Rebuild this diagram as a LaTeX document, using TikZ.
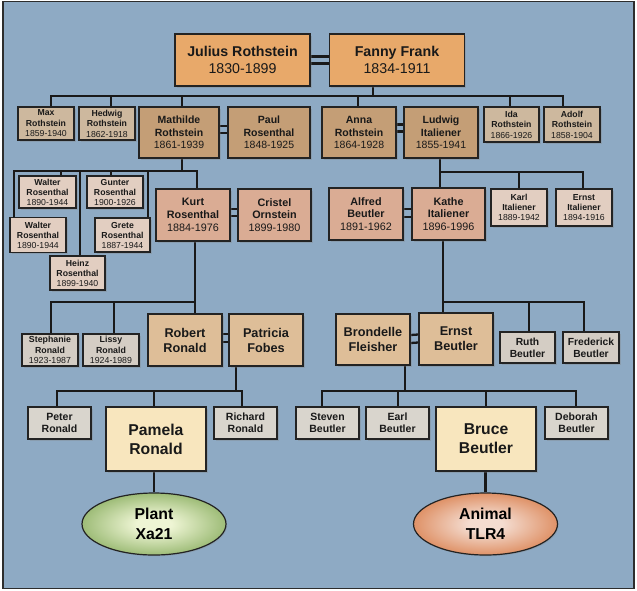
\documentclass[tikz,border=0pt]{standalone}
\usepackage{fontspec}
\setmainfont{Liberation Sans}
\usetikzlibrary{shapes.geometric,shadows}
\definecolor{bgblue}{RGB}{142,170,196}
\definecolor{frameline}{RGB}{45,45,45}
\definecolor{boxline}{RGB}{35,35,35}
\definecolor{cTop}{RGB}{232,169,106}
\definecolor{cGtwo}{RGB}{196,158,118}
\definecolor{cGtwoS}{RGB}{205,184,158}
\definecolor{cGthree}{RGB}{218,172,148}
\definecolor{cGthreeS}{RGB}{226,206,193}
\definecolor{cGfour}{RGB}{222,190,152}
\definecolor{cGfourS}{RGB}{212,205,196}
\definecolor{cGfiveS}{RGB}{217,213,205}
\definecolor{cCream}{RGB}{248,230,190}
\definecolor{gin}{RGB}{238,245,212}
\definecolor{gout}{RGB}{132,170,90}
\definecolor{oin}{RGB}{244,220,208}
\definecolor{oout}{RGB}{216,122,70}
\pgfdeclareradialshading{greenball}{\pgfpoint{0bp}{0bp}}{color(0bp)=(gin); color(6bp)=(gin); color(31bp)=(gout); color(50bp)=(gout)}
\pgfdeclareradialshading{orangeball}{\pgfpoint{0bp}{0bp}}{color(0bp)=(oin); color(6bp)=(oin); color(31bp)=(oout); color(50bp)=(oout)}
\pgfdeclarelayer{bglayer}
\pgfdeclarelayer{linelayer}
\pgfsetlayers{bglayer,linelayer,main}
\tikzset{
  pbox/.style={rectangle, draw=boxline, line width=1.4pt, inner sep=0pt, align=center,
    text=black!90, drop shadow={shadow xshift=1.5pt, shadow yshift=-1.5pt, opacity=0.3}},
  sz/.style 2 args={minimum width=#1pt, minimum height=#2pt},
  gtop/.style={pbox, fill=cTop, font=\fontsize{14.2}{17}\selectfont},
  gtwo/.style={pbox, fill=cGtwo, font=\fontsize{10.5}{12.5}\selectfont},
  gtwos/.style={pbox, fill=cGtwoS, font=\fontsize{8.7}{10.5}\selectfont},
  gthree/.style={pbox, fill=cGthree, font=\fontsize{10.8}{12.7}\selectfont},
  gthrees/.style={pbox, fill=cGthreeS, font=\fontsize{8.7}{10}\selectfont},
  gfour/.style={pbox, fill=cGfour, font=\fontsize{12.7}{15}\selectfont},
  gfours/.style={pbox, fill=cGfourS, font=\fontsize{8.8}{10.3}\selectfont},
  gfourm/.style={pbox, fill=cGfourS, font=\fontsize{10.3}{12.3}\selectfont},
  gfives/.style={pbox, fill=cGfiveS, font=\fontsize{10.5}{12}\selectfont},
  gstar/.style={pbox, fill=cCream, font=\fontsize{15.7}{19}\selectfont},
  oval/.style={ellipse, draw=boxline, line width=1.2pt, inner sep=0pt, align=center,
    minimum width=144pt, minimum height=62pt, font=\fontsize{15.8}{20}\selectfont,
    drop shadow={shadow xshift=1.2pt, shadow yshift=-1.2pt, opacity=0.25}},
  ln/.style={draw=black!90, line width=2.3pt},
}
\begin{document}
\begin{tikzpicture}[x=1pt,y=-1pt]
\useasboundingbox (0,0) rectangle (637,590);
\begin{pgfonlayer}{bglayer}
\fill[white] (0,0) rectangle (637,590);
\draw[fill=bgblue, draw=frameline, line width=1.3pt] (3,1.5) rectangle (634,588.5);
\end{pgfonlayer}

% generation 1
\node[gtop, sz={135}{52}] (julius) at (242.5,60) {\textbf{Julius Rothstein}\\1830-1899};
\node[gtop, sz={135}{52}] (fanny) at (397,60) {\textbf{Fanny Frank}\\1834-1911};

% generation 2
\node[gtwos, sz={56}{33}] (max) at (46,123.5) {\textbf{Max}\\\textbf{Rothstein}\\1859-1940};
\node[gtwos, sz={56}{33}] (hedwig) at (107,123.5) {\textbf{Hedwig}\\\textbf{Rothstein}\\1862-1918};
\node[gtwo, sz={80}{51}] (mathilde) at (179,132.5) {\textbf{Mathilde}\\\textbf{Rothstein}\\1861-1939};
\node[gtwo, sz={82}{51}] (paul) at (269,132.5) {\textbf{Paul}\\\textbf{Rosenthal}\\1848-1925};
\node[gtwo, sz={74}{51}] (anna) at (359,132.5) {\textbf{Anna}\\\textbf{Rothstein}\\1864-1928};
\node[gtwo, sz={74}{51}] (ludwig) at (441,132.5) {\textbf{Ludwig}\\\textbf{Italiener}\\1855-1941};
\node[gtwos, sz={55}{35}] (ida) at (511.5,124.5) {\textbf{Ida}\\\textbf{Rothstein}\\1866-1926};
\node[gtwos, sz={56}{35}] (adolf) at (572,124.5) {\textbf{Adolf}\\\textbf{Rothstein}\\1858-1904};

% generation 3 left
\node[gthrees, sz={57}{32}] (walta) at (47.5,192) {\textbf{Walter}\\\textbf{Rosenthal}\\1890-1944};
\node[gthrees, sz={56}{35}] (waltb) at (38,235) {\textbf{Walter}\\\textbf{Rosenthal}\\1890-1944};
\node[gthrees, sz={56}{32}] (gunter) at (115,192) {\textbf{Gunter}\\\textbf{Rosenthal}\\1900-1926};
\node[gthrees, sz={55}{34}] (grete) at (122.5,235) {\textbf{Grete}\\\textbf{Rosenthal}\\1887-1944};
\node[gthrees, sz={55}{34}] (heinz) at (77.5,273) {\textbf{Heinz}\\\textbf{Rosenthal}\\1899-1940};
\node[gthree, sz={74}{52}] (kurt) at (193,215) {\textbf{Kurt}\\\textbf{Rosenthal}\\1884-1976};
\node[gthree, sz={73}{52}] (cristel) at (274.5,215) {\textbf{Cristel}\\\textbf{Ornstein}\\1899-1980};

% generation 3 right
\node[gthree, sz={74}{52}] (alfred) at (366,214) {\textbf{Alfred}\\\textbf{Beutler}\\1891-1962};
\node[gthree, sz={73}{52}] (kathe) at (448.5,214) {\textbf{Kathe}\\\textbf{Italiener}\\1896-1996};
\node[gthrees, sz={56}{37}] (karl) at (519,207.5) {\textbf{Karl}\\\textbf{Italiener}\\1889-1942};
\node[gthrees, sz={56}{37}] (ernsti) at (584,207.5) {\textbf{Ernst}\\\textbf{Italiener}\\1894-1916};

% generation 4
\node[gfours, sz={56}{32}] (stephanie) at (50,350) {\textbf{Stephanie}\\\textbf{Ronald}\\1923-1987};
\node[gfours, sz={56}{32}] (lissy) at (111,350) {\textbf{Lissy}\\\textbf{Ronald}\\1924-1989};
\node[gfour, sz={74}{52}] (robert) at (185,340) {\textbf{Robert}\\\textbf{Ronald}};
\node[gfour, sz={74}{52}] (patricia) at (266,340) {\textbf{Patricia}\\\textbf{Fobes}};
\node[gfour, sz={74}{51}] (brondelle) at (373,339.5) {\textbf{Brondelle}\\\textbf{Fleisher}};
\node[gfour, sz={74}{52}] (ernstb) at (456,339) {\textbf{Ernst}\\\textbf{Beutler}};
\node[gfourm, sz={55}{31}] (ruth) at (527.5,347.5) {\textbf{Ruth}\\\textbf{Beutler}};
\node[gfourm, sz={56}{31}] (frederick) at (591,347.5) {\textbf{Frederick}\\\textbf{Beutler}};

% generation 5
\node[gfives, sz={63}{32}] (peter) at (59.5,423) {\textbf{Peter}\\\textbf{Ronald}};
\node[gstar, sz={100}{64}] (pamela) at (156,439) {\textbf{Pamela}\\\textbf{Ronald}};
\node[gfives, sz={63}{32}] (richard) at (245.5,423) {\textbf{Richard}\\\textbf{Ronald}};
\node[gfives, sz={63}{32}] (steven) at (327.5,423) {\textbf{Steven}\\\textbf{Beutler}};
\node[gfives, sz={63}{32}] (earl) at (397.5,423) {\textbf{Earl}\\\textbf{Beutler}};
\node[gstar, sz={100}{64}] (bruce) at (486,439) {\textbf{Bruce}\\\textbf{Beutler}};
\node[gfives, sz={63}{32}] (deborah) at (576.5,423) {\textbf{Deborah}\\\textbf{Beutler}};

% genes
\node[oval, shading=greenball] (plant) at (154,524) {\textbf{Plant}\\\textbf{Xa21}};
\node[oval, shading=orangeball] (animal) at (485.5,524) {\textbf{Animal}\\\textbf{TLR4}};

\coordinate (j1) at (373,96);
\coordinate (j2) at (182,171);
\coordinate (j3) at (440,172);
\coordinate (j4) at (195,302);
\coordinate (j5) at (443,302);
\coordinate (j6) at (236,391);
\coordinate (j7) at (405,391);

\begin{pgfonlayer}{linelayer}
% marriages
\draw[ln] ([yshift=3.5]julius.east) -- ([yshift=3.5]fanny.west);
\draw[ln] ([yshift=-3.5]julius.east) -- ([yshift=-3.5]fanny.west);
\draw[ln] ([yshift=6.5]mathilde.east) -- ([yshift=6.5]paul.west);
\draw[ln] ([yshift=-0.8]mathilde.east) -- ([yshift=-0.8]paul.west);
\draw[ln] ([yshift=8]anna.east) -- ([yshift=8]ludwig.west);
\draw[ln] ([yshift=1]anna.east) -- ([yshift=1]ludwig.west);
\draw[ln] ([yshift=6]kurt.east) -- ([yshift=6]cristel.west);
\draw[ln] ([yshift=-1.2]kurt.east) -- ([yshift=-1.2]cristel.west);
\draw[ln] ([yshift=4.7]alfred.east) -- ([yshift=4.7]kathe.west);
\draw[ln] ([yshift=-2.7]alfred.east) -- ([yshift=-2.7]kathe.west);
\draw[ln] ([yshift=6]robert.east) -- ([yshift=6]patricia.west);
\draw[ln] ([yshift=-2]robert.east) -- ([yshift=-2]patricia.west);
\draw[ln] ([yshift=4.5]brondelle.east) -- ([yshift=4.5]ernstb.west);
\draw[ln] ([yshift=-3.5]brondelle.east) -- ([yshift=-3.5]ernstb.west);

% descent 1
\draw[ln] ([xshift=-24]fanny.south) -- (j1);
\draw[ln] ([xshift=5]max.north) |- (j1);
\draw[ln] ([xshift=4]hedwig.north) |- (j1);
\draw[ln] ([xshift=3]mathilde.north) |- (j1);
\draw[ln] ([xshift=-1]anna.north) |- (j1);
\draw[ln] ([xshift=-1.5]ida.north) |- (j1);
\draw[ln] ([xshift=-9]adolf.north) |- (j1);

% descent 2 (Rosenthal)
\draw[ln] ([xshift=3]mathilde.south) -- (j2);
\draw[ln] ([xshift=-24]waltb.north) |- (j2);
\draw[ln] ([xshift=13.5]walta.north) |- (j2);
\draw[ln] ([xshift=2.5]heinz.north) |- (j2);
\draw[ln] ([xshift=-4]gunter.north) |- (j2);
\draw[ln] ([xshift=25.5]grete.north) |- (j2);
\draw[ln] ([xshift=4]kurt.north) |- (j2);

% descent 3 (Italiener)
\draw[ln] ([xshift=-1]ludwig.south) -- (j3);
\draw[ln] ([xshift=-8.5]kathe.north) |- (j3);
\draw[ln] (karl.north) |- (j3);
\draw[ln] ([xshift=-1]ernsti.north) |- (j3);

% descent 4
\draw[ln] ([xshift=2]kurt.south) -- (j4);
\draw[ln] ([xshift=1]stephanie.north) |- (j4);
\draw[ln] ([xshift=3]lissy.north) |- (j4);
\draw[ln] ([xshift=10]robert.north) |- (j4);

\draw[ln] ([xshift=-5.5]kathe.south) -- (j5);
\draw[ln] ([xshift=-13]ernstb.north) |- (j5);
\draw[ln] ([xshift=1.5]ruth.north) |- (j5);
\draw[ln] ([xshift=-7]frederick.north) |- (j5);

% descent 5
\draw[ln] ([xshift=-30]patricia.south) -- (j6);
\draw[ln] ([xshift=-2.5]peter.north) |- (j6);
\draw[ln] ([xshift=-2]pamela.north) |- (j6);
\draw[ln] ([xshift=-3.5]richard.north) |- (j6);

\draw[ln] ([xshift=32]brondelle.south) -- (j7);
\draw[ln] ([xshift=-5.5]steven.north) |- (j7);
\draw[ln] ([xshift=0.5]earl.north) |- (j7);
\draw[ln] (bruce.north) |- (j7);
\draw[ln] ([xshift=-0.5]deborah.north) |- (j7);

% genes
\draw[ln] (plant.north) -- (plant.north |- pamela.south);
\draw[ln] (animal.north) -- (animal.north |- bruce.south);
\end{pgfonlayer}
\end{tikzpicture}
\end{document}
